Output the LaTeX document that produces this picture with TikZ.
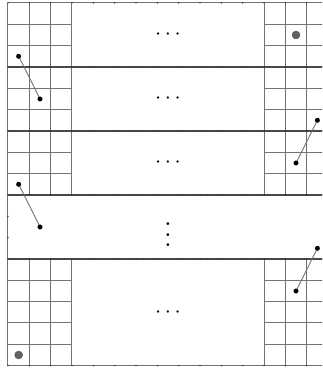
\documentclass[tikz,border=0pt]{standalone}
\begin{document}
\begin{tikzpicture}[scale=0.75, end/.style={draw, circle, fill=black, inner sep=0pt, minimum size=4.5pt}]
        \tikzstyle{cell}=[draw=black!55, line width=1pt]
        \tikzstyle{seam}=[draw=black!72, line width=2.8pt]
        \tikzstyle{tick}=[fill=black!85]
        \tikzstyle{marker}=[draw=black!65, circle, fill=black!62, inner sep=0pt, minimum size=8pt]
        \tikzstyle{link}=[draw=black!55, line width=0.9pt]
        \useasboundingbox (-0.375, -0.25) rectangle (14.72, 17.14);
        \clip (-0.375, -0.25) rectangle (14.72, 17.14);

        \draw[cell] (0, 8) grid (3, 17);
        \draw[cell] (0, 0) grid (3, 5);
        \draw[cell] (12, 8) grid (15, 17);
        \draw[cell] (12, 0) grid (15, 5);
        \draw[cell] (0, 0) -- (0, 17);
        \draw[cell] (15, 0) -- (15, 17);
        \draw[cell] (0, 17) -- (15, 17);
        \draw[cell] (0, 0) -- (15, 0);
        \foreach \y in {5, 8, 11, 14}
            \draw[seam] (0, \y) -- (15, \y);
        \foreach \y in {0, 5, 8, 11, 14, 17}
            \foreach \x in {0, ..., 15}
                \fill[tick] (\x, \y) circle (1pt);
        \foreach \y in {6, 7} {
            \fill[tick] (0, \y) circle (1pt);
            \fill[tick] (15, \y) circle (1pt);
        }

        \node[scale=2.2] (h1) at (7.5, 15.5) {$\cdots$};
        \node[scale=2.2] (h2) at (7.5, 12.5) {$\cdots$};
        \node[scale=2.2] (h3) at (7.5, 9.5)  {$\cdots$};
        \node[scale=2.6] (v4) at (7.5, 6.5)  {$\vdots$};
        \node[scale=2.2] (h5) at (7.5, 2.5)  {$\cdots$};

        \node[marker] (m1) at (13.5, 15.5) {};
        \node[marker] (m2) at (0.5, 0.5)   {};

        \node[end] (a1) at (0.5, 14.5)  {};
        \node[end] (a2) at (1.5, 12.5)  {};
        \node[end] (b1) at (14.5, 11.5) {};
        \node[end] (b2) at (13.5, 9.5)  {};
        \node[end] (c1) at (0.5, 8.5)   {};
        \node[end] (c2) at (1.5, 6.5)   {};
        \node[end] (d1) at (14.5, 5.5)  {};
        \node[end] (d2) at (13.5, 3.5)  {};

        \draw[link] (a1) -- (a2);
        \draw[link] (b1) -- (b2);
        \draw[link] (c1) -- (c2);
        \draw[link] (d1) -- (d2);
    \end{tikzpicture}
\end{document}
